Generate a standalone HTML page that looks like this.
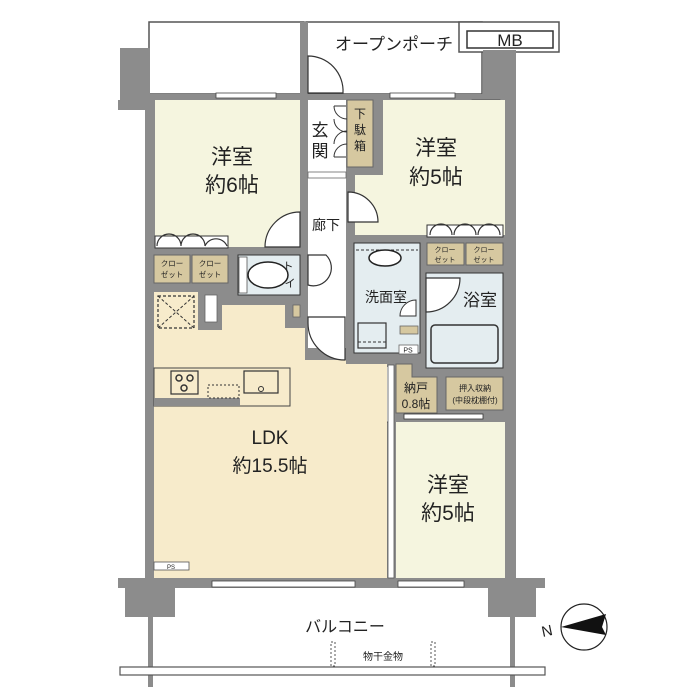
<!DOCTYPE html>
<html><head><meta charset="utf-8"><style>
body{margin:0;background:#fff;}
svg{display:block}
text{font-family:"Liberation Sans","Noto Sans CJK JP",sans-serif;fill:#222}
</style></head><body>
<svg width="700" height="700" viewBox="0 0 700 700" xmlns="http://www.w3.org/2000/svg">
<rect width="700" height="700" fill="#fff"/>
<rect x="149" y="22" width="155" height="72" fill="#fff" stroke="#555" stroke-width="1.5"/>
<rect x="306" y="22" width="176" height="72" fill="#fff" stroke="#555" stroke-width="1.5"/>
<rect x="459" y="22" width="100" height="30" fill="#fff" stroke="#555" stroke-width="1.5"/>
<rect x="467" y="31" width="86" height="17" fill="#fff" stroke="#333" stroke-width="1.5"/>
<text x="510" y="46" font-size="17" text-anchor="middle">MB</text>
<text x="394" y="50" font-size="17" text-anchor="middle">オープンポーチ</text>
<rect x="145" y="94" width="371" height="494" fill="#8c8c8c"/>
<rect x="300" y="22" width="8" height="75" fill="#8c8c8c"/>
<polygon points="120,48 150,48 150,110 118,110 118,100 120,100" fill="#8c8c8c"/>
<rect x="483" y="50" width="33" height="50" fill="#8c8c8c"/>
<rect x="118" y="578" width="427" height="10" fill="#8c8c8c"/>
<rect x="125" y="585" width="50" height="32" fill="#8c8c8c"/>
<rect x="488" y="585" width="48" height="32" fill="#8c8c8c"/>
<rect x="216" y="93" width="60" height="5" fill="#fff" stroke="#444" stroke-width="0.8"/>
<rect x="390" y="93" width="65" height="5" fill="#fff" stroke="#444" stroke-width="0.8"/>
<rect x="472" y="100" width="28" height="5" fill="#fff" stroke="#444" stroke-width="0.8"/>
<text x="486" y="104.5" font-size="5" text-anchor="middle">PS</text>
<rect x="212" y="581" width="143" height="6" fill="#fff" stroke="#444" stroke-width="0.8"/>
<rect x="398" y="581" width="66" height="6" fill="#fff" stroke="#444" stroke-width="0.8"/>
<!-- room 6 -->
<rect x="155" y="100" width="145" height="147" fill="#f5f5df"/>
<rect x="155" y="236" width="73" height="12" fill="#fff" stroke="#333" stroke-width="1"/>
<path d="M157,246 a12,12 0 0 1 24,0 M181,246 a12,12 0 0 1 24,0 M205,246 a12,12 0 0 1 22,0" fill="none" stroke="#333" stroke-width="1.2"/>
<rect x="154" y="255" width="36" height="28" fill="#d6c8a0" stroke="#666" stroke-width="1"/>
<rect x="192" y="255" width="36" height="28" fill="#d6c8a0" stroke="#666" stroke-width="1"/>
<text x="172" y="266" font-size="7.5" text-anchor="middle">クロー</text><text x="172" y="277" font-size="7.5" text-anchor="middle">ゼット</text>
<text x="210" y="266" font-size="7.5" text-anchor="middle">クロー</text><text x="210" y="277" font-size="7.5" text-anchor="middle">ゼット</text>
<path d="M265,247 a35,35 0 0 1 35,-35 L300,247 Z" fill="#fff" stroke="#333" stroke-width="1.2"/>
<text x="232" y="164" font-size="21" text-anchor="middle">洋室</text>
<text x="232" y="192" font-size="21" text-anchor="middle">約6帖</text>
<!-- toilet -->
<rect x="238" y="255" width="62" height="40" fill="#e4edf0" stroke="#333" stroke-width="1"/>
<rect x="239" y="257" width="8" height="36" fill="#fff" stroke="#555" stroke-width="0.8"/>
<ellipse cx="268" cy="275" rx="20" ry="13" fill="#fff" stroke="#222" stroke-width="1.5"/>
<text x="288" y="270" font-size="11" text-anchor="middle">ト</text><text x="290" y="287" font-size="11" text-anchor="middle">イ</text>
<!-- corridor -->
<rect x="308" y="100" width="38" height="248" fill="#fff"/>
<rect x="308" y="172" width="38" height="6" fill="#fff" stroke="#666" stroke-width="0.8"/>
<path d="M308,56 a35,35 0 0 1 35,37 L308,93 Z" fill="#fff" stroke="#333" stroke-width="1.2"/>
<rect x="347" y="100" width="26" height="67" fill="#d6c8a0" stroke="#666" stroke-width="1"/>
<text x="360" y="118" font-size="12" text-anchor="middle">下</text>
<text x="360" y="134" font-size="12" text-anchor="middle">駄</text>
<text x="360" y="150" font-size="12" text-anchor="middle">箱</text>
<path d="M334,106 a13,13 0 0 0 13,13 M334,119 a13,13 0 0 0 13,13 M334,144 a13,13 0 0 1 13,-13 M334,157 a13,13 0 0 1 13,-13" fill="none" stroke="#333" stroke-width="1"/>
<line x1="334" y1="106" x2="346" y2="106" stroke="#333"/><line x1="334" y1="157" x2="346" y2="157" stroke="#333"/>
<text x="320" y="136" font-size="17" text-anchor="middle">玄</text>
<text x="320" y="157" font-size="17" text-anchor="middle">関</text>
<text x="326" y="230" font-size="14" text-anchor="middle">廊下</text>
<path d="M308,255 h18 a18,18 0 0 1 -18,30 Z" fill="#fff" stroke="#333" stroke-width="1.2"/>
<!-- room 5 upper -->
<polygon points="383,100 505,100 505,235 355,235 355,175 383,175" fill="#f5f5df"/>
<path d="M348,192 a30,30 0 0 1 30,30 L348,222 Z" fill="#fff" stroke="#333" stroke-width="1.2"/>
<rect x="427" y="225" width="76" height="12" fill="#fff" stroke="#333" stroke-width="1"/>
<path d="M430,235 a11,11 0 0 1 22,0 M454,235 a11,11 0 0 1 22,0 M478,235 a11,11 0 0 1 22,0" fill="none" stroke="#333" stroke-width="1.2"/>
<rect x="427" y="243" width="37" height="22" fill="#d6c8a0" stroke="#666" stroke-width="1"/>
<rect x="466" y="243" width="37" height="22" fill="#d6c8a0" stroke="#666" stroke-width="1"/>
<text x="445" y="252" font-size="7" text-anchor="middle">クロー</text><text x="445" y="262" font-size="7" text-anchor="middle">ゼット</text>
<text x="484" y="252" font-size="7" text-anchor="middle">クロー</text><text x="484" y="262" font-size="7" text-anchor="middle">ゼット</text>
<text x="436" y="155" font-size="21" text-anchor="middle">洋室</text>
<text x="436" y="184" font-size="21" text-anchor="middle">約5帖</text>
<!-- washroom -->
<rect x="354" y="243" width="66" height="110" fill="#e4edf0" stroke="#333" stroke-width="1"/>
<line x1="356" y1="250" x2="418" y2="250" stroke="#333" stroke-dasharray="3,2"/>
<ellipse cx="385" cy="258" rx="16" ry="8" fill="#fff" stroke="#222" stroke-width="1.5"/>
<rect x="358" y="323" width="28" height="25" fill="#e4edf0" stroke="#333" stroke-width="1.2"/>
<line x1="358" y1="342" x2="386" y2="342" stroke="#333" stroke-dasharray="3,2"/>
<text x="386" y="302" font-size="14" text-anchor="middle">洗面室</text>
<path d="M400,316 a16,16 0 0 1 16,-16 L416,316 Z" fill="#fff" stroke="#333" stroke-width="1"/>
<rect x="400" y="326" width="18" height="8" fill="#d6c8a0" stroke="#666" stroke-width="0.8"/>
<rect x="399" y="345" width="19" height="9" fill="#fff" stroke="#666" stroke-width="0.8"/>
<text x="408" y="352.5" font-size="7" text-anchor="middle">PS</text>
<!-- bath -->
<rect x="426" y="273" width="77" height="95" fill="#e4edf0" stroke="#333" stroke-width="1"/>
<path d="M426,312 a34,34 0 0 0 34,-34 L426,278 Z" fill="#fff" stroke="#333" stroke-width="1.2"/>
<rect x="431" y="325" width="67" height="38" rx="4" fill="#e4edf0" stroke="#333" stroke-width="1.5"/>
<text x="480" y="306" font-size="17" text-anchor="middle">浴室</text>
<!-- storage -->
<polygon points="396,364 412,364 412,377 437,377 437,413 396,413" fill="#d6c8a0" stroke="#666" stroke-width="1"/>
<text x="416" y="392" font-size="12" text-anchor="middle">納戸</text>
<text x="416" y="408" font-size="12" text-anchor="middle">0.8帖</text>
<rect x="446" y="377" width="57" height="33" fill="#d6c8a0" stroke="#666" stroke-width="1"/>
<text x="475" y="391" font-size="8" text-anchor="middle">押入収納</text>
<text x="475" y="403" font-size="8" text-anchor="middle">(中段枕棚付)</text>
<rect x="385" y="367" width="6" height="55" fill="#fff" stroke="#333" stroke-width="0.8" stroke-dasharray="2,1"/>
<rect x="404" y="414" width="79" height="5" fill="#fff" stroke="#333" stroke-width="0.8"/>
<!-- room 5 lower -->
<rect x="396" y="422" width="109" height="156" fill="#f5f5df"/>
<text x="448" y="492" font-size="21" text-anchor="middle">洋室</text>
<text x="448" y="520" font-size="21" text-anchor="middle">約5帖</text>
<!-- LDK -->
<polygon points="154,292 198,292 198,330 222,330 222,305 285,305 285,328 305,328 305,360 346,360 346,364 387,364 387,578 154,578" fill="#f7ebcb"/>
<rect x="205" y="295" width="12" height="27" fill="#fff" stroke="#666" stroke-width="0.8"/>
<rect x="293" y="305" width="7" height="12" fill="#d6c8a0" stroke="#666" stroke-width="0.8"/>
<rect x="158" y="296" width="36" height="32" fill="none" stroke="#333" stroke-width="1.2" stroke-dasharray="3,2"/>
<path d="M158,296 L194,328 M194,296 L158,328" stroke="#333" stroke-width="1" stroke-dasharray="3,2"/>
<path d="M308,317 h37 v43 a37,37 0 0 1 -37,-37 Z" fill="#fff" stroke="#333" stroke-width="1.2"/>
<rect x="388" y="365" width="6" height="213" fill="#fff" stroke="#555" stroke-width="0.8"/>
<rect x="154" y="368" width="136" height="38" fill="#f7ebcb" stroke="#444" stroke-width="1"/>
<rect x="154" y="398" width="86" height="8" fill="#8c8c8c"/>
<rect x="171" y="371" width="27" height="23" fill="#f7ebcb" stroke="#333" stroke-width="1.2"/>
<circle cx="179" cy="378" r="3" fill="none" stroke="#333" stroke-width="1.5"/><circle cx="190" cy="378" r="3" fill="none" stroke="#333" stroke-width="1.5"/><circle cx="184" cy="388" r="3" fill="none" stroke="#333" stroke-width="1.5"/>
<rect x="208" y="385" width="31" height="13" fill="none" stroke="#333" stroke-dasharray="2,2"/>
<rect x="244" y="371" width="34" height="22" fill="#f7ebcb" stroke="#333" stroke-width="1.2"/>
<circle cx="261" cy="389" r="2.5" fill="none" stroke="#333"/>
<rect x="154" y="562" width="35" height="8" fill="#fff" stroke="#555" stroke-width="0.8"/>
<text x="171" y="569" font-size="6" text-anchor="middle">PS</text>
<text x="270" y="444" font-size="19" text-anchor="middle">LDK</text>
<text x="270" y="472" font-size="19" text-anchor="middle">約15.5帖</text>
<!-- balcony -->
<rect x="148" y="617" width="5" height="70" fill="#8c8c8c"/>
<rect x="510" y="617" width="5" height="70" fill="#8c8c8c"/>
<rect x="120" y="667" width="425" height="8" fill="#fff" stroke="#555" stroke-width="1.2"/>
<text x="345" y="632" font-size="16" text-anchor="middle">バルコニー</text>
<rect x="331" y="642" width="4" height="24" fill="none" stroke="#555" stroke-dasharray="2,2"/>
<rect x="431" y="642" width="4" height="24" fill="none" stroke="#555" stroke-dasharray="2,2"/>
<text x="383" y="660" font-size="10" text-anchor="middle">物干金物</text>
<!-- compass -->
<circle cx="584" cy="627" r="23" fill="#fff" stroke="#222" stroke-width="1.2"/>
<polygon points="561,627 606,614 602,627 606,635" fill="#111"/>
<text x="547" y="636" font-size="15" text-anchor="middle" transform="rotate(-12 547 631)">N</text>
</svg>
</body></html>
